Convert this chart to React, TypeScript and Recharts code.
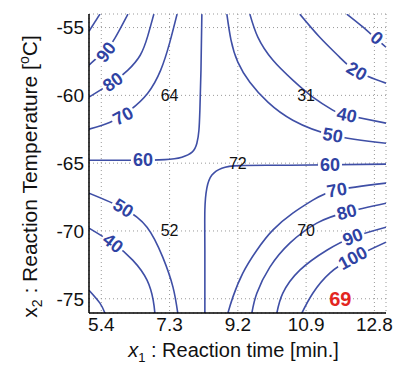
import React from "react";
import {
  ComposedChart,
  Line,
  Scatter,
  XAxis,
  YAxis,
  CartesianGrid,
} from "recharts";

// coded reaction time (-2..2) shown with the real minute values
const xTicks = [-2, -1, 0, 1, 2];
const xTickLabels = ["5.4", "7.3", "9.2", "10.9", "12.8"];
const yTicks = [-75, -70, -65, -60, -55];

// contour lines (x = coded time, y = temperature)
const c100Top = [{ x: -2.18, y: -55.27 }, { x: -2.02, y: -54.01 }];
const c90Top = [
  { x: -2.18, y: -57.77 }, { x: -2.05, y: -57.18 }, { x: -1.93, y: -56.67 },
  { x: -1.8, y: -55.78 }, { x: -1.61, y: -54.01 },
];
const c80Top = [
  { x: -2.18, y: -60.13 }, { x: -1.83, y: -59.03 }, { x: -1.61, y: -58.14 },
  { x: -1.43, y: -57.04 }, { x: -1.32, y: -55.63 }, { x: -1.23, y: -54.01 },
];
const c70Top = [
  { x: -2.18, y: -62.49 }, { x: -1.87, y: -61.98 }, { x: -1.58, y: -61.09 },
  { x: -1.32, y: -59.84 }, { x: -1.13, y: -58.14 }, { x: -1.0, y: -56.15 },
  { x: -0.89, y: -54.01 },
];
const c60Left = [
  { x: -2.18, y: -64.78 }, { x: -1.58, y: -64.78 }, { x: -1.07, y: -64.74 },
  { x: -0.82, y: -64.56 }, { x: -0.67, y: -64.19 }, { x: -0.6, y: -63.53 },
  { x: -0.57, y: -62.57 }, { x: -0.556, y: -61.09 }, { x: -0.54, y: -58.14 },
  { x: -0.527, y: -54.01 },
];
const c60Right = [
  { x: -0.483, y: -76.06 }, { x: -0.483, y: -71.42 }, { x: -0.483, y: -68.47 },
  { x: -0.454, y: -66.84 }, { x: -0.38, y: -65.88 }, { x: -0.234, y: -65.37 },
  { x: 0.03, y: -65.18 }, { x: 0.76, y: -65.15 }, { x: 2.17, y: -65.07 },
];
const c50Top = [
  { x: -0.161, y: -54.01 }, { x: -0.1, y: -55.93 }, { x: 0.0, y: -57.55 },
  { x: 0.176, y: -59.03 }, { x: 0.44, y: -60.5 }, { x: 0.805, y: -61.83 },
  { x: 1.39, y: -62.94 }, { x: 2.17, y: -63.53 },
];
const c40Top = [
  { x: 0.176, y: -54.01 }, { x: 0.293, y: -55.71 }, { x: 0.512, y: -57.4 },
  { x: 0.805, y: -58.88 }, { x: 1.098, y: -60.13 }, { x: 1.39, y: -61.09 },
  { x: 1.596, y: -61.46 }, { x: 2.17, y: -62.05 },
];
const c20Top = [
  { x: 0.908, y: -54.01 }, { x: 1.2, y: -55.71 }, { x: 1.49, y: -57.18 },
  { x: 1.74, y: -58.22 }, { x: 2.17, y: -59.1 },
];
const c0Top = [
  { x: 1.596, y: -54.01 }, { x: 1.816, y: -54.9 }, { x: 2.0, y: -55.71 },
  { x: 2.17, y: -56.45 },
];
const c70Bottom = [
  { x: -0.146, y: -76.06 }, { x: -0.073, y: -74.88 }, { x: 0.073, y: -73.11 },
  { x: 0.278, y: -71.42 }, { x: 0.512, y: -69.94 }, { x: 0.805, y: -68.69 },
  { x: 1.098, y: -67.73 }, { x: 1.45, y: -66.99 }, { x: 2.17, y: -66.47 },
];
const c80Bottom = [
  { x: 0.205, y: -76.06 }, { x: 0.278, y: -74.59 }, { x: 0.469, y: -72.67 },
  { x: 0.761, y: -70.9 }, { x: 1.157, y: -69.42 }, { x: 1.596, y: -68.61 },
  { x: 2.17, y: -67.95 },
];
const c90Bottom = [
  { x: 0.571, y: -76.06 }, { x: 0.659, y: -74.59 }, { x: 0.908, y: -72.89 },
  { x: 1.303, y: -71.42 }, { x: 1.684, y: -70.46 }, { x: 2.17, y: -69.72 },
];
const c100Bottom = [
  { x: 0.937, y: -76.06 }, { x: 1.098, y: -74.59 }, { x: 1.347, y: -73.11 },
  { x: 1.684, y: -72.0 }, { x: 2.17, y: -70.83 },
];
const c50Bottom = [
  { x: -2.18, y: -67.21 }, { x: -1.68, y: -68.32 }, { x: -1.33, y: -69.72 },
  { x: -1.1, y: -71.93 }, { x: -0.95, y: -74.14 }, { x: -0.88, y: -76.06 },
];
const c40Bottom = [
  { x: -2.18, y: -69.79 }, { x: -1.83, y: -70.9 }, { x: -1.54, y: -72.15 },
  { x: -1.33, y: -73.63 }, { x: -1.24, y: -75.1 }, { x: -1.215, y: -76.06 },
];
const c30Bottom = [
  { x: -2.18, y: -74.37 }, { x: -2.02, y: -75.32 }, { x: -1.947, y: -76.06 },
];

const contours = [
  c100Top, c90Top, c80Top, c70Top, c60Left, c60Right, c50Top, c40Top, c20Top,
  c0Top, c70Bottom, c80Bottom, c90Bottom, c100Bottom, c50Bottom, c40Bottom, c30Bottom,
];

// inline contour level labels
const contourLabels = [
  { x: -1.93, y: -56.81, level: "90", angle: -52 },
  { x: -1.83, y: -59.03, level: "80", angle: -35 },
  { x: -1.68, y: -61.53, level: "70", angle: -28 },
  { x: -1.39, y: -64.78, level: "60", angle: 0 },
  { x: 2.035, y: -55.78, level: "0", angle: 40 },
  { x: 1.74, y: -58.22, level: "20", angle: 30 },
  { x: 1.596, y: -61.46, level: "40", angle: 12 },
  { x: 1.39, y: -62.94, level: "50", angle: 10 },
  { x: 1.35, y: -65.15, level: "60", angle: 0 },
  { x: 1.45, y: -66.99, level: "70", angle: -10 },
  { x: 1.596, y: -68.61, level: "80", angle: -15 },
  { x: 1.684, y: -70.46, level: "90", angle: -22 },
  { x: 1.684, y: -72.0, level: "100", angle: -28 },
  { x: -1.68, y: -68.32, level: "50", angle: 32 },
  { x: -1.83, y: -70.9, level: "40", angle: 38 },
];

// measured yields at the design points
const designPoints = [
  { x: -1, y: -60, value: "64" },
  { x: 1, y: -60, value: "31" },
  { x: 0, y: -65, value: "72" },
  { x: -1, y: -70, value: "52" },
  { x: 1, y: -70, value: "70" },
];
const optimumPoint = [{ x: 1.5, y: -75, value: "69" }];

const FONT = "'Liberation Sans', Arial, Helvetica, sans-serif";
const LINE = "#3f4fa6";
const LABEL = "#2f43a3";
const X_DOMAIN: [number, number] = [-2.18, 2.17];
const Y_DOMAIN: [number, number] = [-76.05, -54];

const ContourLabel = (props: any) => {
  const { cx, cy, payload } = props;
  const w = payload.level.length * 10 + 4;
  return (
    <g transform={`translate(${cx},${cy}) rotate(${payload.angle})`}>
      <rect x={-w / 2} y={-7} width={w} height={14} fill="#fff" />
      <text
        textAnchor="middle"
        dominantBaseline="central"
        fontFamily={FONT}
        fontWeight="bold"
        fontSize={18}
        fill={LABEL}
      >
        {payload.level}
      </text>
    </g>
  );
};

const PointLabel = (props: any) => {
  const { cx, cy, payload } = props;
  return (
    <text
      x={cx}
      y={cy}
      textAnchor="middle"
      dominantBaseline="central"
      fontFamily={FONT}
      fontSize={16}
      fill="#111"
    >
      {payload.value}
    </text>
  );
};

const OptimumLabel = (props: any) => {
  const { cx, cy, payload } = props;
  return (
    <text
      x={cx}
      y={cy}
      textAnchor="middle"
      dominantBaseline="central"
      fontFamily={FONT}
      fontWeight="bold"
      fontSize={20}
      fill="#e3261f"
    >
      {payload.value}
    </text>
  );
};

const XLabel = (props: any) => {
  const { viewBox } = props;
  const cx = viewBox.x + viewBox.width / 2 - 4;
  return (
    <text x={cx} y={357} textAnchor="middle" fontFamily={FONT} fontSize={20} fill="#111">
      <tspan fontStyle="italic">x</tspan>
      <tspan fontSize={13} dy={5}>1</tspan>
      <tspan dy={-5}> : Reaction time [min.]</tspan>
    </text>
  );
};

const YLabel = (props: any) => {
  const { viewBox } = props;
  const cy = viewBox.y + viewBox.height / 2 + 13;
  return (
    <text
      x={37}
      y={cy}
      transform={`rotate(-90, 37, ${cy})`}
      textAnchor="middle"
      fontFamily={FONT}
      fontSize={21}
      fill="#111"
    >
      <tspan>x</tspan>
      <tspan fontSize={14} dy={5}>2</tspan>
      <tspan dy={-5}> : Reaction Temperature [</tspan>
      <tspan fontSize={14} dy={-8}>o</tspan>
      <tspan dy={8}>C]</tspan>
    </text>
  );
};

const tickStyle = { fontFamily: FONT, fontSize: 19, fill: "#111" };
const hiddenTick = { fill: "none", fontSize: 1 };
const frame = { stroke: "#000", strokeWidth: 1.5 };

const App: React.FC = () => {
  return (
    <div style={{ position: "absolute", left: 0, top: 0, background: "#fff" }}>
      <ComposedChart
        width={399}
        height={372}
        margin={{ top: 14, right: 13, left: 0, bottom: 0 }}
      >
        <CartesianGrid stroke="#999" strokeDasharray="1 3" />
        <XAxis
          dataKey="x"
          type="number"
          domain={X_DOMAIN}
          ticks={xTicks}
          allowDataOverflow
          tickFormatter={(v: number) => xTickLabels[xTicks.indexOf(v)] ?? ""}
          tick={tickStyle}
          tickLine={false}
          tickSize={2}
          tickMargin={3}
          height={59}
          axisLine={frame}
          label={<XLabel />}
        />
        <XAxis
          xAxisId="top"
          orientation="top"
          type="number"
          domain={X_DOMAIN}
          ticks={xTicks}
          allowDataOverflow
          mirror
          height={0}
          tick={hiddenTick}
          tickSize={4}
          tickLine={{ stroke: "#000" }}
          axisLine={frame}
        />
        <YAxis
          dataKey="y"
          type="number"
          domain={Y_DOMAIN}
          ticks={yTicks}
          allowDataOverflow
          tick={tickStyle}
          tickLine={false}
          tickSize={3}
          tickMargin={2}
          width={89}
          axisLine={frame}
          label={<YLabel />}
        />
        <YAxis
          yAxisId="right"
          orientation="right"
          type="number"
          domain={Y_DOMAIN}
          ticks={yTicks}
          allowDataOverflow
          mirror
          width={0}
          tick={hiddenTick}
          tickSize={4}
          tickLine={{ stroke: "#000" }}
          axisLine={frame}
        />
        {contours.map((pts, i) => (
          <Line
            key={i}
            data={pts}
            dataKey="y"
            type="natural"
            stroke={LINE}
            strokeWidth={1.6}
            dot={false}
            activeDot={false}
            isAnimationActive={false}
          />
        ))}
        <Scatter data={contourLabels} dataKey="y" shape={<ContourLabel />} isAnimationActive={false} />
        <Scatter data={designPoints} dataKey="y" shape={<PointLabel />} isAnimationActive={false} />
        <Scatter data={optimumPoint} dataKey="y" shape={<OptimumLabel />} isAnimationActive={false} />
      </ComposedChart>
    </div>
  );
};

export default App;
